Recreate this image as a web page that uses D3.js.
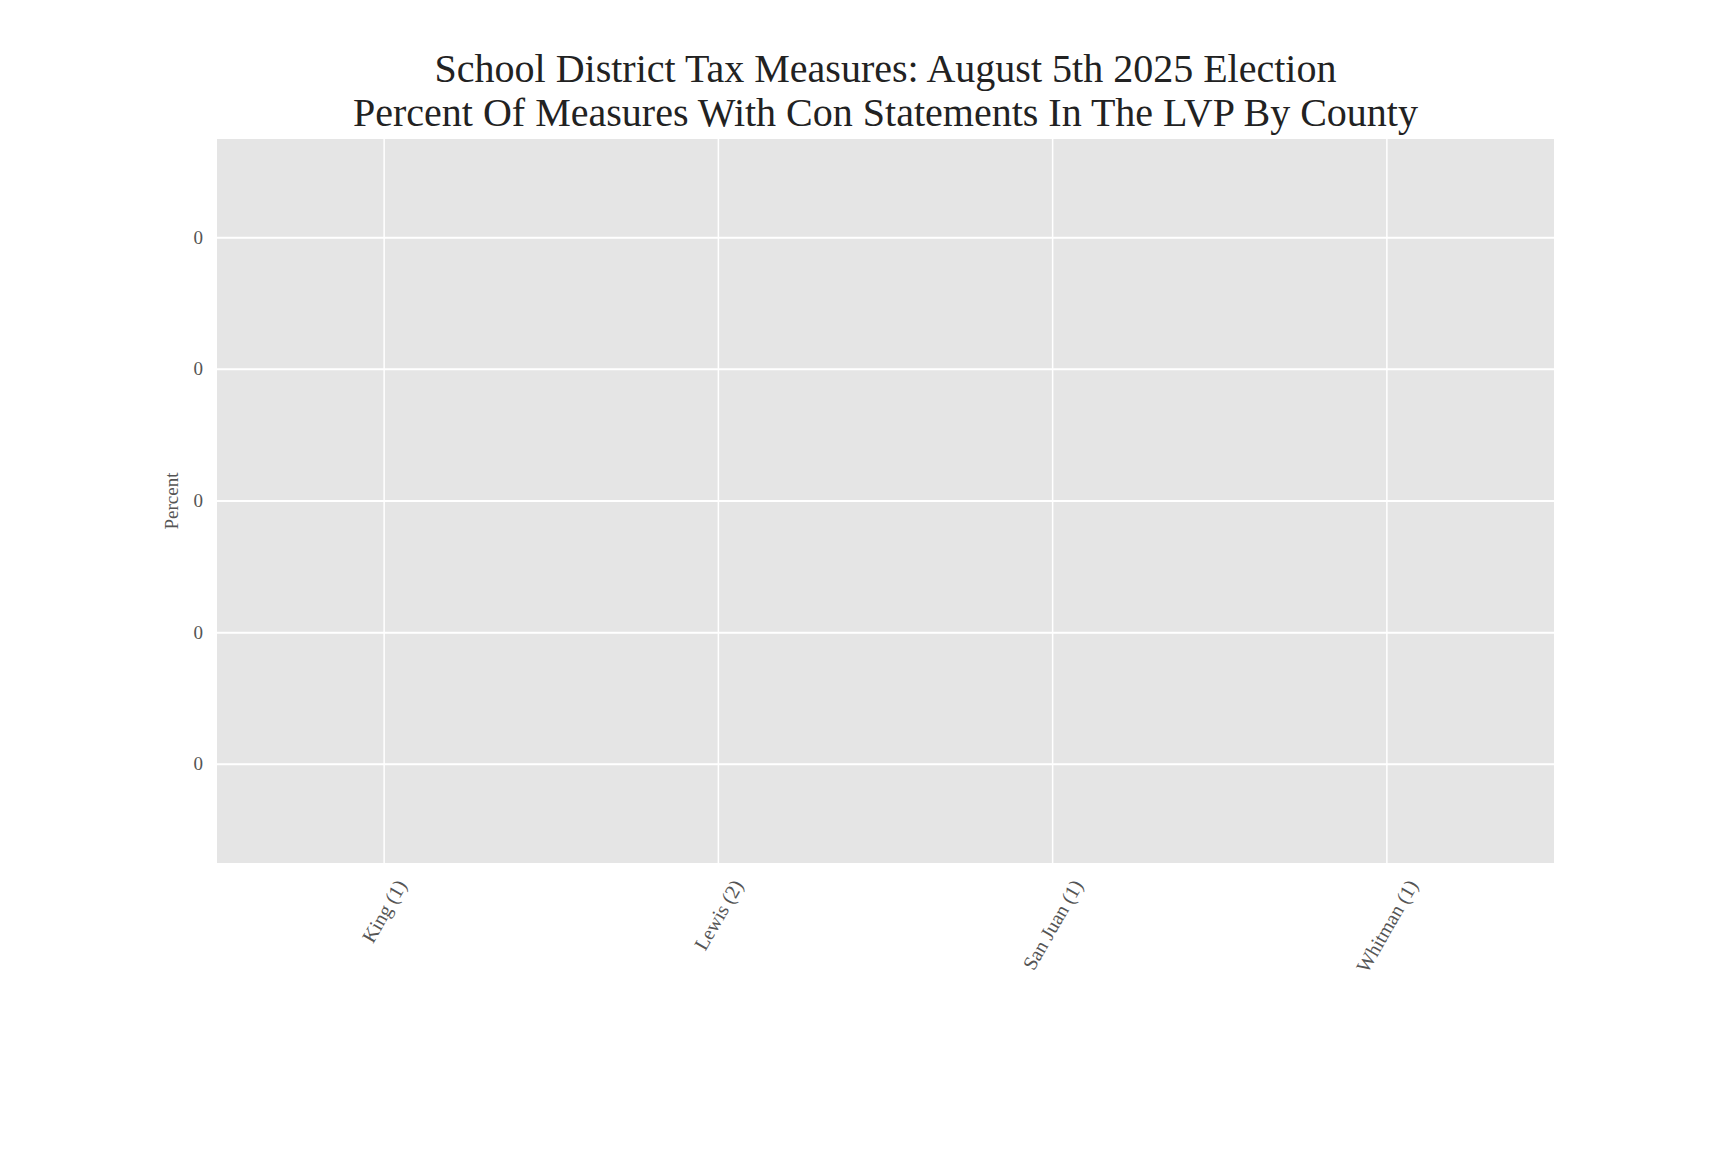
<!DOCTYPE html>
<html>
<head>
<meta charset="utf-8">
<script src="https://cdn.jsdelivr.net/npm/d3@7"></script>
<style>
  body { margin: 0; background: #fff; }
  text { font-family: "Liberation Serif", "Times New Roman", serif; }
</style>
</head>
<body>
<div id="chart"></div>
<script>
// data
const counties = ["King (1)", "Lewis (2)", "San Juan (1)", "Whitman (1)"];
const percents = [0, 0, 0, 0];
const yTicks = [-0.04, -0.02, 0, 0.02, 0.04];
const yTickLabels = ["0", "0", "0", "0", "0"];
const titleLines = [
  "School District Tax Measures: August 5th 2025 Election",
  "Percent Of Measures With Con Statements In The LVP By County"
];

const width = 1728, height = 1152;
const plot = {left: 217, right: 1554, top: 139, bottom: 863};

const svg = d3.select("#chart")
  .append("svg")
  .attr("width", width)
  .attr("height", height);

const x = d3.scaleBand()
  .domain(counties)
  .range([plot.left, plot.right])
  .paddingInner(0.2)
  .paddingOuter(0.1);

const y = d3.scaleLinear()
  .domain([-0.055, 0.055])
  .range([plot.bottom, plot.top]);

const cx = d => x(d) + x.bandwidth() / 2;

// panel background
svg.append("rect")
  .attr("x", plot.left)
  .attr("y", plot.top)
  .attr("width", plot.right - plot.left)
  .attr("height", plot.bottom - plot.top)
  .attr("fill", "#e5e5e5");

// grid
svg.append("g").attr("class", "ygrid")
  .selectAll("line")
  .data(yTicks)
  .join("line")
  .attr("x1", plot.left)
  .attr("x2", plot.right)
  .attr("y1", d => y(d))
  .attr("y2", d => y(d))
  .attr("stroke", "#fff")
  .attr("stroke-width", 2);

svg.append("g").attr("class", "xgrid")
  .selectAll("line")
  .data(counties)
  .join("line")
  .attr("x1", cx)
  .attr("x2", cx)
  .attr("y1", plot.top)
  .attr("y2", plot.bottom)
  .attr("stroke", "#fff")
  .attr("stroke-width", 1.5);

// bars (all zero height)
svg.append("g").attr("class", "bars")
  .selectAll("rect")
  .data(counties.map((c, i) => ({county: c, value: percents[i]})))
  .join("rect")
  .attr("x", d => x(d.county))
  .attr("width", x.bandwidth())
  .attr("y", d => Math.min(y(d.value), y(0)))
  .attr("height", d => Math.abs(y(d.value) - y(0)))
  .attr("fill", "#e24a33");

// y tick labels
svg.append("g").attr("class", "yticks")
  .selectAll("text")
  .data(yTicks)
  .join("text")
  .attr("x", 203)
  .attr("y", d => y(d))
  .attr("dy", "0.32em")
  .attr("text-anchor", "end")
  .attr("font-size", 19)
  .attr("fill", "#555")
  .text((d, i) => yTickLabels[i]);

// y label
svg.append("text")
  .attr("transform", `translate(178,${(plot.top + plot.bottom) / 2}) rotate(-90)`)
  .attr("text-anchor", "middle")
  .attr("font-size", 19)
  .attr("fill", "#555")
  .text("Percent");

// x tick labels, rotated 60deg, bbox centered on tick with top just below panel
const labelTop = 878;
const xLabels = svg.append("g").attr("class", "xticks")
  .selectAll("text")
  .data(counties)
  .join("text")
  .attr("text-anchor", "middle")
  .attr("dominant-baseline", "central")
  .attr("font-size", 20)
  .attr("fill", "#555")
  .text(d => d);

xLabels.each(function(d) {
  const w = this.getComputedTextLength();
  const h = 14;
  const half = (w * Math.sin(Math.PI / 3) + h * Math.cos(Math.PI / 3)) / 2;
  d3.select(this).attr("transform", `translate(${cx(d)},${labelTop + half}) rotate(-60)`);
});

// title
svg.append("g").attr("class", "title")
  .selectAll("text")
  .data(titleLines)
  .join("text")
  .attr("x", (plot.left + plot.right) / 2)
  .attr("y", (d, i) => 82 + i * 44)
  .attr("text-anchor", "middle")
  .attr("font-size", 40)
  .attr("fill", "#222")
  .text(d => d);
</script>
</body>
</html>
